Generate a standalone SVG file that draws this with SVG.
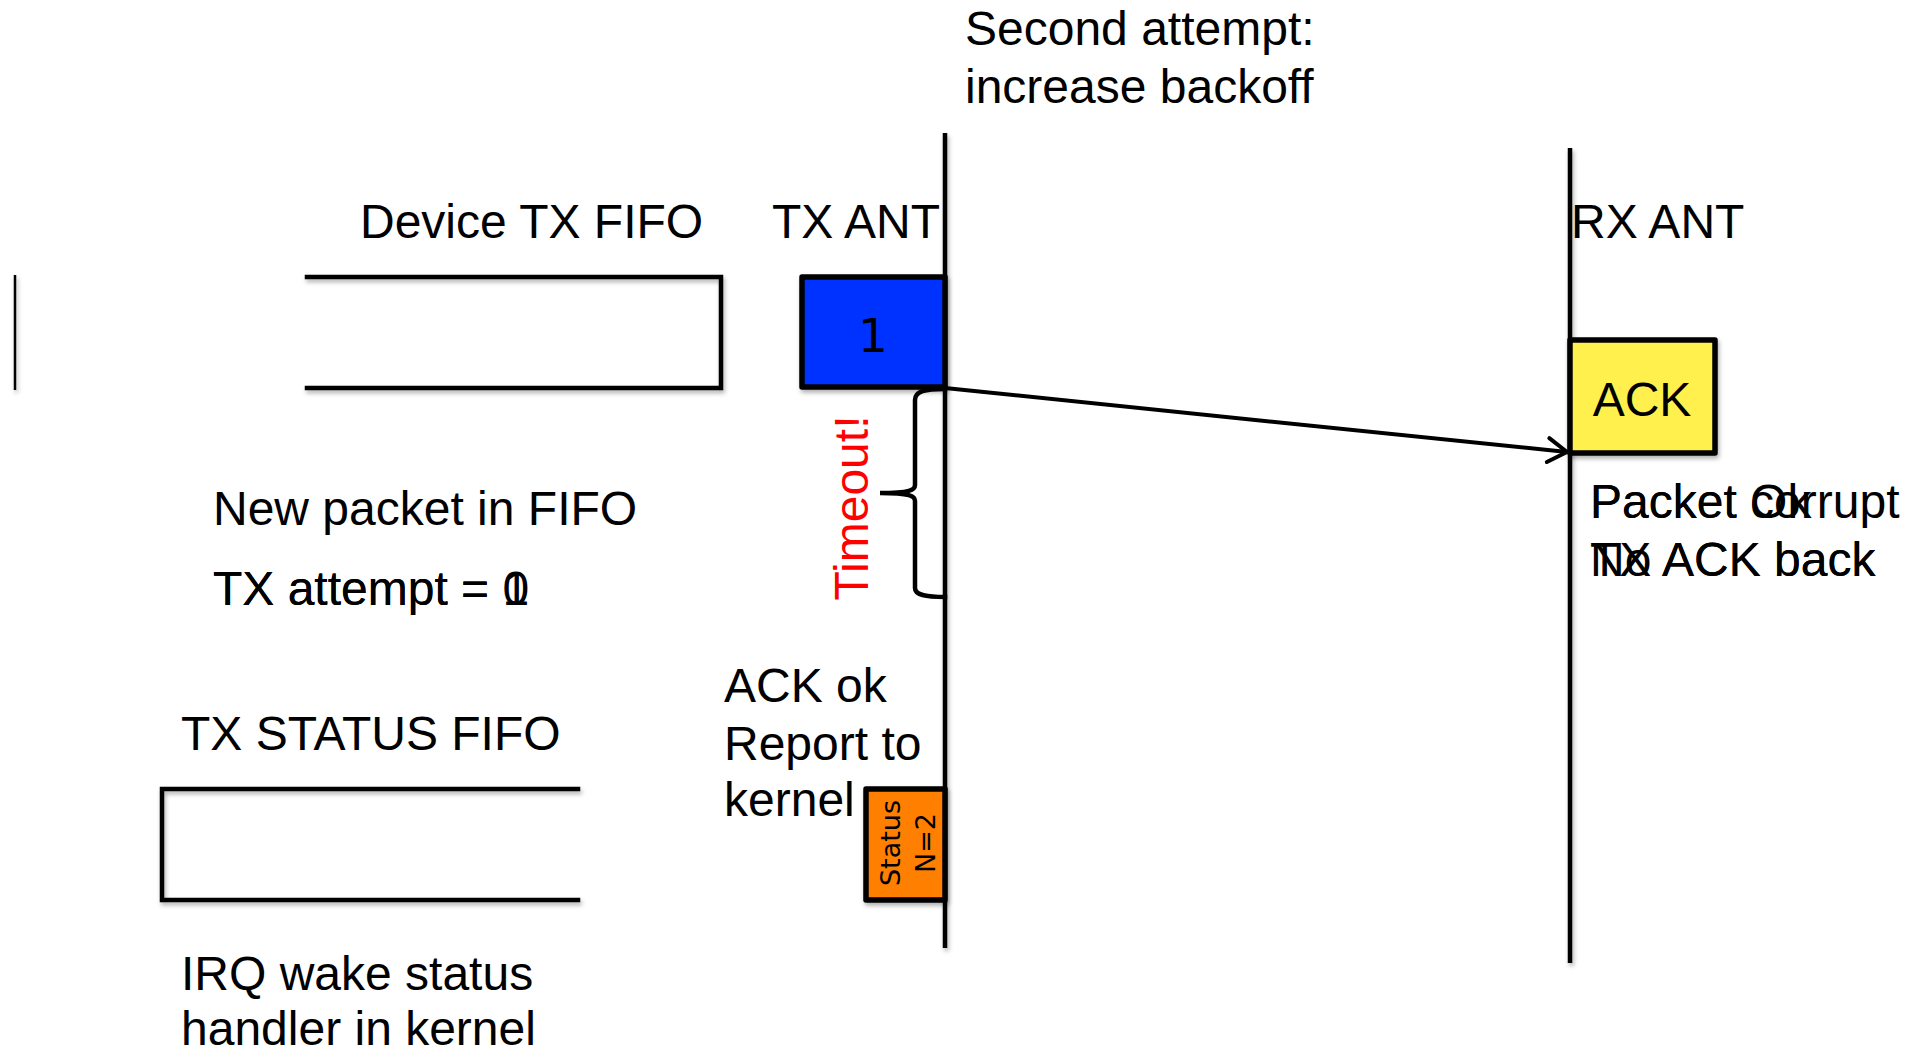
<svg xmlns="http://www.w3.org/2000/svg" width="1917" height="1052" viewBox="0 0 1917 1052">
<style>
.t{font-family:"Liberation Sans",Arial,sans-serif;font-size:48px;fill:#000}
.ln{stroke:#000;stroke-width:4.5;fill:none;stroke-linecap:square}
.box{stroke:#000;stroke-width:5.5;stroke-linejoin:round}
.dv{font-family:"DejaVu Sans",sans-serif;fill:#000}
</style>
<defs>
<filter id="sh" x="-20%" y="-20%" width="140%" height="140%">
<feDropShadow dx="1.5" dy="3" stdDeviation="2" flood-color="#000" flood-opacity="0.3"/>
</filter>
<filter id="shl" filterUnits="userSpaceOnUse" x="0" y="0" width="1917" height="1052">
<feDropShadow dx="1.5" dy="3" stdDeviation="2" flood-color="#000" flood-opacity="0.3"/>
</filter>
<marker id="arr" markerWidth="26" markerHeight="30" refX="22" refY="15" orient="auto" markerUnits="userSpaceOnUse" viewBox="0 0 26 30">
<path d="M3,3 L22,15 L3,27" fill="none" stroke="#000" stroke-width="4" stroke-linecap="round" stroke-linejoin="round"/>
</marker>
</defs>
<rect width="1917" height="1052" fill="#fff"/>

<g id="title">
<text class="t" x="965" y="45">Second attempt:</text>
<text class="t" x="965" y="103">increase backoff</text>
</g>

<g id="tx-fifo">
<text class="t" x="360" y="238">Device TX FIFO</text>
<path class="ln" d="M307,277 L721,277 L721,388 L307,388" filter="url(#shl)"/>
<line x1="15" y1="275" x2="15" y2="390" stroke="#000" stroke-width="2.5" filter="url(#shl)"/>
</g>

<g id="tx-labels">
<text class="t" x="213" y="525">New packet in FIFO</text>
<text class="t" x="213" y="605">TX attempt = 0</text>
<text class="t" x="213" y="605">TX attempt = 1</text>
</g>

<g id="tx-status-fifo">
<text class="t" x="181" y="750">TX STATUS FIFO</text>
<path class="ln" d="M578,789 L162,789 L162,900 L578,900" filter="url(#shl)"/>
</g>
<g id="irq-label">
<text class="t" x="181" y="990">IRQ wake status</text>
<text class="t" x="181" y="1045">handler in kernel</text>
</g>

<g id="tx-ant">
<text class="t" x="772" y="238">TX ANT</text>
<line x1="945" y1="133" x2="945" y2="948" stroke="#000" stroke-width="4.5" filter="url(#shl)"/>
</g>

<g id="rx-ant">
<text class="t" x="1571" y="238">RX ANT</text>
<line x1="1570" y1="148" x2="1570" y2="963" stroke="#000" stroke-width="4.5" filter="url(#shl)"/>
</g>

<g id="packet-1">
<rect class="box" x="802" y="277" width="143" height="110" fill="#0433FF" filter="url(#sh)"/>
<text class="dv" x="873" y="352" font-size="47" text-anchor="middle">1</text>
</g>

<g id="timeout">
<path class="ln" stroke-width="4" d="M945,389 C925,389 915,391 915,400 L915,485 C915,490 910,493 880,493 C910,493 915,496 915,501 L915,588 C915,595 925,597 945,597"/>
<text class="t" transform="translate(868,508) rotate(-90)" text-anchor="middle" style="fill:#FF0000">Timeout!</text>
</g>

<g id="ack">
<rect class="box" x="1570" y="340" width="145" height="113" fill="#FFF04D" filter="url(#sh)"/>
<text class="t" x="1642" y="416" text-anchor="middle">ACK</text>
</g>

<g id="rx-labels">
<text class="t" x="1590" y="518">Packet Ok</text>
<text class="t" x="1590" y="518">Packet corrupt</text>
<text class="t" x="1590" y="576">TX ACK back</text>
<text class="t" x="1590" y="576">No ACK back</text>
</g>

<g id="ack-ok-label">
<text class="t" x="724" y="702">ACK ok</text>
<text class="t" x="724" y="760">Report to</text>
<text class="t" x="724" y="816">kernel</text>
</g>

<g id="status">
<rect class="box" x="866" y="789" width="79" height="111" fill="#FF7F00" filter="url(#sh)"/>
<text class="dv" font-size="27" transform="translate(900,843) rotate(-90)" text-anchor="middle">Status</text>
<text class="dv" font-size="27" transform="translate(935,843) rotate(-90)" text-anchor="middle">N=2</text>
</g>

<g id="connectors">
<line x1="945" y1="388" x2="1567" y2="452" stroke="#000" stroke-width="4" marker-end="url(#arr)"/>
</g>
</svg>
